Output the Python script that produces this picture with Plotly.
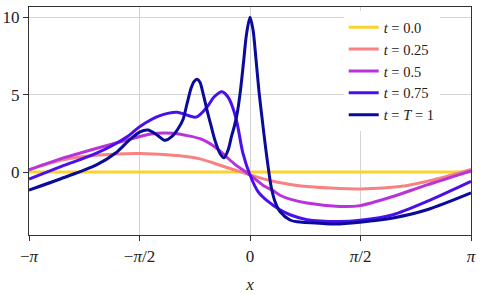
import numpy as np
import plotly.graph_objects as go

PI = np.pi

# t = 0.0
x0 = [-PI, PI]
y0 = [0.0, 0.0]

# t = 0.25
x1 = [-PI, -2.67, -2.19, -1.56, -1.0, -0.71, -0.5, -0.25, 0.0, 0.33, 0.57, 0.81, 1.28, 1.56, 2.13, 2.6, PI]
y1 = [0.15, 0.77, 1.08, 1.2, 1.05, 0.85, 0.55, 0.18, -0.18, -0.6, -0.8, -0.94, -1.07, -1.09, -0.94, -0.51, 0.17]

# t = 0.5
x2 = [-PI, -2.672, -2.189, -1.72, -1.43, -1.095, -0.711, -0.611, -0.498, -0.412, -0.327, -0.213,
      0.0, 0.213, 0.327, 0.426, 0.569, 0.810, 1.279, 1.564, 2.033, 2.516, PI]
y2 = [0.15, 0.88, 1.52, 2.1, 2.45, 2.5, 2.16, 1.95, 1.62, 1.3, 0.95, 0.5,
      -0.19, -0.94, -1.2, -1.5, -1.75, -2.0, -2.22, -2.17, -1.58, -0.83, 0.08]

# t = 0.75
x3 = [-PI, -2.672, -2.189, -1.720, -1.564, -1.279, -1.037, -0.767, -0.611, -0.512, -0.398, -0.313,
      -0.256, -0.185, -0.100, 0.0, 0.114, 0.256, 0.426, 0.569, 0.810, 1.279, 1.564, 2.033, 2.516, PI]
y3 = [-0.45, 0.38, 1.2, 2.37, 2.95, 3.65, 3.87, 3.55, 4.2, 4.85, 5.19, 4.85,
      4.3, 3.2, 1.2, -0.19, -1.26, -1.9, -2.44, -2.76, -3.08, -3.2, -3.12, -2.76, -1.9, -0.6]

# t = T = 1
x4 = [-PI, -2.672, -2.189, -1.905, -1.720, -1.564, -1.450, -1.322, -1.208, -1.109, -1.023, -0.952,
      -0.896, -0.839, -0.796, -0.753, -0.711, -0.668, -0.611, -0.554, -0.498, -0.426, -0.370,
      -0.313, -0.263, -0.220, -0.178, -0.135, -0.092, -0.050, 0.0, 0.043, 0.085, 0.128, 0.171,
      0.213, 0.256, 0.299, 0.355, 0.426, 0.569, 0.668, 1.038, 1.208, 1.564, 2.033, 2.516, PI]
y4 = [-1.17, -0.4, 0.45, 1.25, 2.05, 2.6, 2.72, 2.4, 2.05, 2.3, 2.8, 3.4,
      4.4, 5.4, 5.85, 6.0, 5.8, 5.1, 4.0, 3.0, 2.05, 1.2, 0.92,
      1.4, 2.3, 3.0, 3.9, 5.3, 7.1, 8.9, 10.0, 9.2, 7.3, 5.2, 3.5,
      1.9, 0.4, -0.9, -1.9, -2.55, -3.1, -3.22, -3.33, -3.36, -3.24, -2.97, -2.44, -1.35]

names = ["<i>t</i> = 0.0", "<i>t</i> = 0.25", "<i>t</i> = 0.5", "<i>t</i> = 0.75", "<i>t</i> = <i>T</i> = 1"]
colors = ["#FCD22E", "#F88281", "#B834D8", "#4A10EC", "#0A0A9C"]
xs = [x0, x1, x2, x3, x4]
ys = [y0, y1, y2, y3, y4]

xtick_vals = [-PI, -PI / 2, 0, PI / 2, PI]
xtick_text = ["−<i>π</i>", "−<i>π</i>/2", "0", "<i>π</i>/2", "<i>π</i>"]
ytick_vals = [0, 5, 10]

fig = go.Figure()
for x, y, n, c in zip(xs, ys, names, colors):
    fig.add_trace(go.Scatter(x=x, y=y, mode="lines", name=n,
                             line=dict(color=c, width=3, shape="spline", smoothing=0.8)))

FONT = "Liberation Serif"
fig.update_layout(
    width=482, height=294,
    margin=dict(l=29, r=11, t=7, b=59, autoexpand=False),
    paper_bgcolor="white", plot_bgcolor="white",
    font=dict(family=FONT, size=17, color="#222"),
    legend=dict(x=0.712, y=0.981, xanchor="left", yanchor="top",
                bgcolor="white", borderwidth=0, font=dict(size=14.5, family=FONT),
                tracegroupgap=0),
)
fig.update_xaxes(range=[-PI, PI], tickvals=xtick_vals, ticktext=xtick_text,
                 showgrid=True, gridcolor="#d3d3d3", gridwidth=1,
                 showline=True, linecolor="#333", linewidth=1.3, mirror=True,
                 ticks="outside", ticklen=5, tickcolor="#333",
                 zeroline=False, automargin=False,
                 title=dict(text="<i>x</i>", standoff=13, font=dict(size=17)))
fig.update_yaxes(range=[-4.07, 10.67], tickvals=ytick_vals,
                 showgrid=True, gridcolor="#d3d3d3", gridwidth=1,
                 showline=True, linecolor="#333", linewidth=1.3, mirror=True,
                 ticks="outside", ticklen=5, tickcolor="#333",
                 zeroline=False, automargin=False)

fig.write_html("out.html")
